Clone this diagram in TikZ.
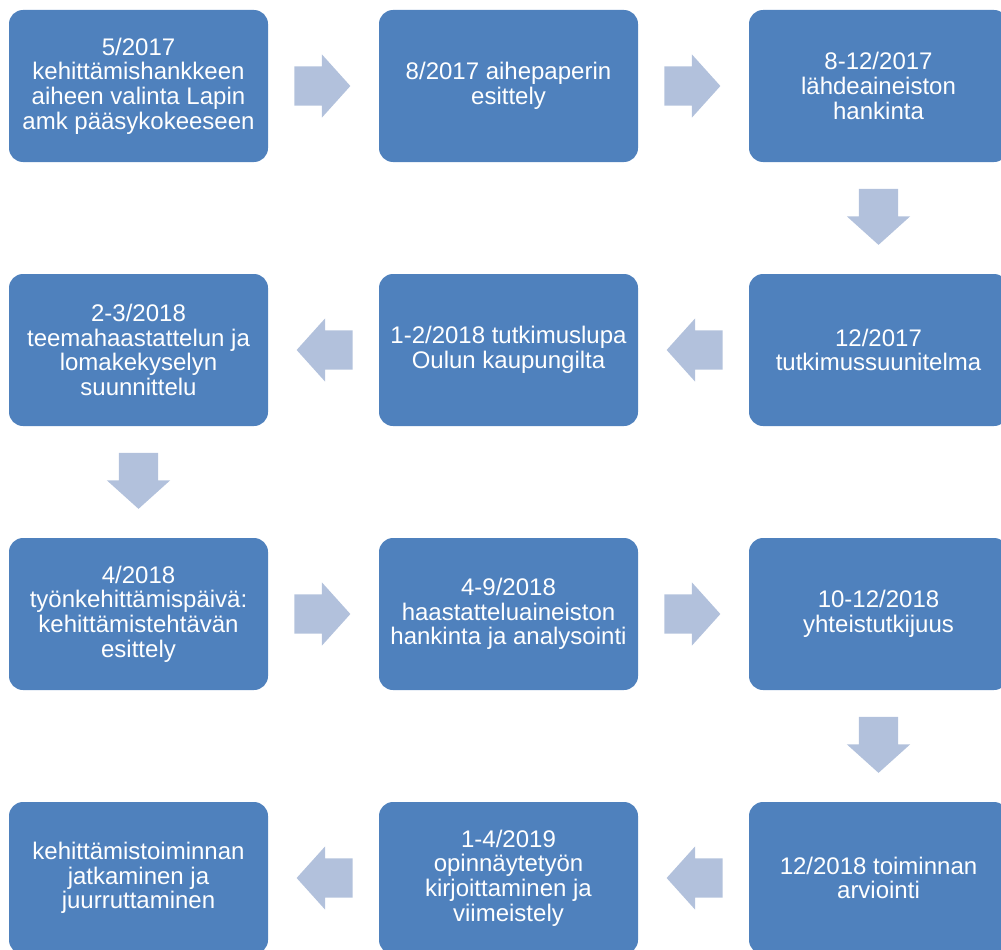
\documentclass[tikz,border=0pt]{standalone}
\usepackage{fontspec}
\setmainfont{Liberation Sans}
\usetikzlibrary{calc}
\usetikzlibrary{shapes.arrows}
\definecolor{boxblue}{RGB}{79,129,189}
\definecolor{arrowblue}{RGB}{178,193,220}
\tikzstyle{box}=[rectangle, rounded corners=14pt, fill=boxblue, text=white, minimum width=259pt, minimum height=152pt, inner sep=0pt, align=center, font=\fontsize{24}{24.7}\selectfont]
\tikzstyle{flowarrow}=[single arrow, fill=arrowblue, minimum width=63pt, minimum height=56pt, inner xsep=0pt, inner ysep=19.5pt, single arrow head extend=12pt, single arrow tip angle=96, xshift=-10pt]

\begin{document}
\begin{tikzpicture}[x=1pt,y=-1pt]
        \useasboundingbox (0,0) rectangle (1001,950);
        \clip (0,0) rectangle (1001,950);

        % row 1
        \node[box] (0) at (138.5,86) {5/2017\\kehittämishankkeen\\aiheen valinta Lapin\\amk pääsykokeeseen};
        \node[box] (1) at (508.5,86) {8/2017 aihepaperin\\esittely};
        \node[box] (2) at (878.5,86) {8-12/2017\\lähdeaineiston\\hankinta};

        % row 2
        \node[box] (3) at (878.5,350) {12/2017\\tutkimussuunitelma};
        \node[box] (4) at (508.5,350) {1-2/2018 tutkimuslupa\\Oulun kaupungilta};
        \node[box] (5) at (138.5,350) {2-3/2018\\teemahaastattelun ja\\lomakekyselyn\\suunnittelu};

        % row 3
        \node[box] (6) at (138.5,614) {4/2018\\työnkehittämispäivä:\\kehittämistehtävän\\esittely};
        \node[box] (7) at (508.5,614) {4-9/2018\\haastatteluaineiston\\hankinta ja analysointi};
        \node[box] (8) at (878.5,614) {10-12/2018\\yhteistutkijuus};

        % row 4
        \node[box] (9) at (878.5,878) {12/2018 toiminnan\\arviointi};
        \node[box] (10) at (508.5,878) {1-4/2019\\opinnäytetyön\\kirjoittaminen ja\\viimeistely};
        \node[box] (11) at (138.5,878) {kehittämistoiminnan\\jatkaminen ja\\juurruttaminen};

        % arrows
        \node[flowarrow] (a01) at ($(0.east)!0.5!(1.west)$) {};
        \node[flowarrow] (a12) at ($(1.east)!0.5!(2.west)$) {};
        \node[rotate=-90, flowarrow] (a23) at ($(2.south)!0.5!(3.north)$) {};
        \node[rotate=180, flowarrow] (a34) at ($(3.west)!0.5!(4.east)$) {};
        \node[rotate=180, flowarrow] (a45) at ($(4.west)!0.5!(5.east)$) {};
        \node[rotate=-90, flowarrow] (a56) at ($(5.south)!0.5!(6.north)$) {};
        \node[flowarrow] (a67) at ($(6.east)!0.5!(7.west)$) {};
        \node[flowarrow] (a78) at ($(7.east)!0.5!(8.west)$) {};
        \node[rotate=-90, flowarrow] (a89) at ($(8.south)!0.5!(9.north)$) {};
        \node[rotate=180, flowarrow] (a910) at ($(9.west)!0.5!(10.east)$) {};
        \node[rotate=180, flowarrow] (a1011) at ($(10.west)!0.5!(11.east)$) {};

\end{tikzpicture}
\end{document}
